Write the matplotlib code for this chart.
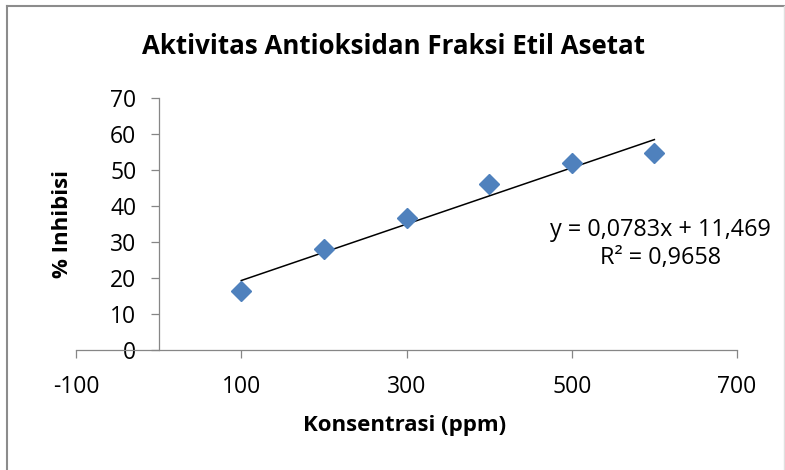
import matplotlib
matplotlib.use("Agg")
import matplotlib.pyplot as plt
from matplotlib.lines import Line2D
import numpy as np

plt.rcParams['font.family'] = ['Open Sans', 'DejaVu Sans']
plt.rcParams['axes.unicode_minus'] = False

# konsentrasi (ppm) dan % inhibisi
konsentrasi = [100, 200, 300, 400, 500, 600]
inhibisi = [16.4, 28.0, 36.7, 46.1, 51.9, 54.8]

# persamaan regresi linier
slope = 0.0783
intercept = 11.469
r2 = 0.9658

x_ticks = [-100, 100, 300, 500, 700]
y_ticks = [0, 10, 20, 30, 40, 50, 60, 70]

axis_color = '#868686'

fig = plt.figure(figsize=(7.85, 4.7), dpi=100)
ax = fig.add_axes([76 / 785, 1 - 350 / 470, 661 / 785, 252 / 470])

ax.plot(konsentrasi, inhibisi, linestyle='none', marker='D',
        markersize=10, color='#4F81BD', zorder=3)

x_fit = np.array([min(konsentrasi), max(konsentrasi)])
ax.plot(x_fit, slope * x_fit + intercept, color='black', linewidth=1.1, zorder=2)

ax.set_xlim(-100, 700)
ax.set_ylim(0, 70)
ax.set_xticks(x_ticks)
ax.set_yticks(y_ticks)

ax.spines['left'].set_position(('data', 0))
ax.spines['top'].set_visible(False)
ax.spines['right'].set_visible(False)
for side in ['left', 'bottom']:
    ax.spines[side].set_color(axis_color)
    ax.spines[side].set_linewidth(0.9)

ax.tick_params(axis='both', direction='out', length=6, width=0.9,
               color=axis_color, labelsize=16.5, labelcolor='black')
ax.tick_params(axis='y', pad=10)
ax.tick_params(axis='x', pad=12)

eq = f"y = {slope:.4f}x + {intercept:.3f}".replace('.', ',')
r2_text = f"R² = {r2:.4f}".replace('.', ',')
ax.text(607, 29.5, eq + "\n" + r2_text, ha='center', va='center',
        fontsize=16.8, linespacing=1.25)

fig.text(393 / 785, 1 - 47 / 470, "Aktivitas Antioksidan Fraksi Etil Asetat",
         ha='center', va='center', fontsize=18.6, fontweight='bold')
fig.text(405 / 785, 1 - 425 / 470, "Konsentrasi (ppm)",
         ha='center', va='center', fontsize=16, fontweight='bold')
fig.text(62 / 785, 1 - 224 / 470, "% Inhibisi", rotation=90,
         ha='center', va='center', fontsize=16, fontweight='bold')

# bingkai grafik
fig.add_artist(Line2D([7 / 785, 7 / 785], [0, 1 - 6 / 470], transform=fig.transFigure,
                      color='#8c8c8c', linewidth=1.5))
fig.add_artist(Line2D([7 / 785, 1], [1 - 6 / 470, 1 - 6 / 470], transform=fig.transFigure,
                      color='#8c8c8c', linewidth=1.5))
fig.add_artist(Line2D([784 / 785, 784 / 785], [0, 1 - 6 / 470], transform=fig.transFigure,
                      color='#e0e0e0', linewidth=1))

fig.savefig("out.png", dpi=100)
